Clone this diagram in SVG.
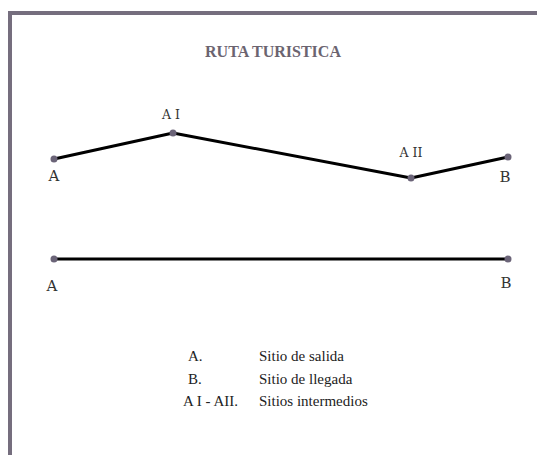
<svg xmlns="http://www.w3.org/2000/svg" width="537" height="455" viewBox="0 0 537 455">
<style>
.frame{fill:none;stroke:#756e7e;stroke-width:4}
.route{fill:none;stroke:#000;stroke-width:3;stroke-linecap:round;stroke-linejoin:round}
.dot{fill:#6b6478}
.lbl{font-family:"DejaVu Serif","Liberation Serif",serif;fill:#333;}
.title{font-family:"Liberation Serif",serif;font-weight:bold;font-size:16px;fill:#6b6470}
.leg{font-family:"Liberation Serif",serif;font-size:15px;fill:#222}
</style>
<rect width="537" height="455" fill="#fff"/>
<path class="frame" d="M10 455 V13 H537"/>
<text class="title" x="273" y="57" text-anchor="middle">RUTA TURISTICA</text>
<g id="connectors">
<polyline class="route" points="54,159 173,133 411,178 508,157"/>
<line class="route" x1="54" y1="259" x2="508" y2="259"/>
</g>
<g id="A1">
<circle class="dot" cx="54" cy="159" r="3.5"/>
<text class="lbl" x="54" y="181" font-size="15" text-anchor="middle">A</text>
</g>
<g id="AI">
<circle class="dot" cx="173" cy="133" r="3.5"/>
<text class="lbl" x="171" y="119" font-size="12.5" text-anchor="middle">A I</text>
</g>
<g id="AII">
<circle class="dot" cx="411" cy="178" r="3.5"/>
<text class="lbl" x="411" y="157" font-size="12.5" text-anchor="middle">A II</text>
</g>
<g id="B1">
<circle class="dot" cx="508" cy="157" r="3.5"/>
<text class="lbl" x="505" y="182" font-size="15" text-anchor="middle">B</text>
</g>
<g id="A2">
<circle class="dot" cx="54" cy="259" r="3.5"/>
<text class="lbl" x="52" y="291" font-size="15" text-anchor="middle">A</text>
</g>
<g id="B2">
<circle class="dot" cx="508" cy="259" r="3.5"/>
<text class="lbl" x="506" y="288" font-size="15" text-anchor="middle">B</text>
</g>
<g id="legend">
<text class="leg" x="188" y="361">A.</text>
<text class="leg" x="259" y="361">Sitio de salida</text>
<text class="leg" x="188" y="384">B.</text>
<text class="leg" x="259" y="384">Sitio de llegada</text>
<text class="leg" x="183" y="406">A I - AII.</text>
<text class="leg" x="259" y="406">Sitios intermedios</text>
</g>
</svg>
